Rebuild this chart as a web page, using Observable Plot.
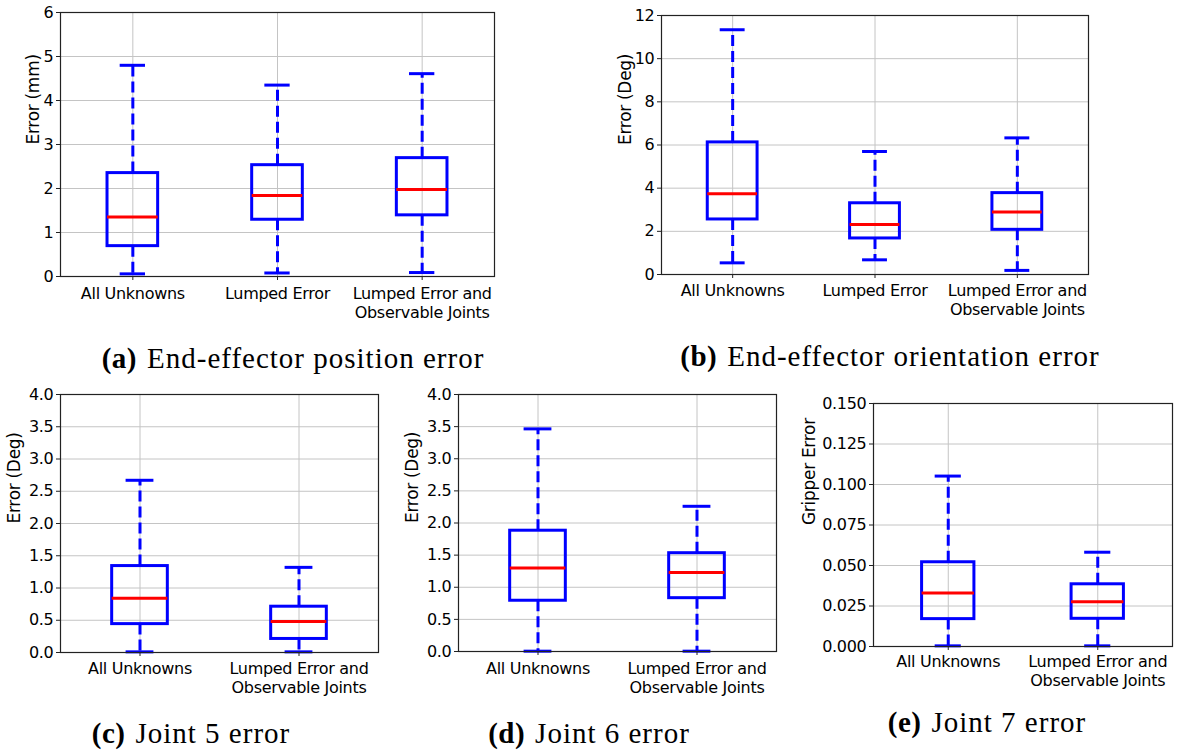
<!DOCTYPE html>
<html>
<head>
<meta charset="utf-8">
<script src="https://cdn.jsdelivr.net/npm/d3@7"></script>
<script src="https://cdn.jsdelivr.net/npm/@observablehq/plot@0.6"></script>
<style>
  html, body { margin: 0; padding: 0; background: #fff; }
  #root { position: relative; width: 1177px; height: 751px; background: #fff; overflow: hidden; }
  .panel { position: absolute; }
  .panel svg text { letter-spacing: -0.3px; }
  .cap { position: absolute; white-space: nowrap; font-family: "Liberation Serif", serif; font-size: 29px; line-height: 1; color: #000; letter-spacing: 1px; transform: translateX(-50%); }
  .cap b { margin-right: 10px; letter-spacing: 0.5px; }
</style>
</head>
<body>
<div id="root"></div>
<script>
// ---------- data ----------
const cats3 = ["All Unknowns", "Lumped Error", "Lumped Error and\nObservable Joints"];
const cats2 = ["All Unknowns", "Lumped Error and\nObservable Joints"];

// (a) End-effector position error (mm)
const posLow  = [0.06, 0.08, 0.09];
const posQ1   = [0.69, 1.29, 1.39];
const posMed  = [1.35, 1.84, 1.98];
const posQ3   = [2.35, 2.53, 2.69];
const posHigh = [4.80, 4.35, 4.61];
const posTicks = [0, 1, 2, 3, 4, 5, 6];

// (b) End-effector orientation error (deg)
const oriLow  = [0.54, 0.68, 0.19];
const oriQ1   = [2.55, 1.67, 2.07];
const oriMed  = [3.74, 2.32, 2.90];
const oriQ3   = [6.12, 3.30, 3.77];
const oriHigh = [11.34, 5.70, 6.33];
const oriTicks = [0, 2, 4, 6, 8, 10, 12];

// (c) Joint 5 error (deg)
const j5Low  = [0.01, 0.01];
const j5Q1   = [0.44, 0.21];
const j5Med  = [0.84, 0.48];
const j5Q3   = [1.34, 0.71];
const j5High = [2.67, 1.32];

// (d) Joint 6 error (deg)
const j6Low  = [0.005, 0.005];
const j6Q1   = [0.79, 0.83];
const j6Med  = [1.30, 1.23];
const j6Q3   = [1.88, 1.53];
const j6High = [3.465, 2.26];
const jointTicks = [0, 0.5, 1.0, 1.5, 2.0, 2.5, 3.0, 3.5, 4.0];

// (e) Joint 7 (gripper) error
const j7Low  = [0.0004, 0.0004];
const j7Q1   = [0.0169, 0.0171];
const j7Med  = [0.033, 0.0276];
const j7Q3   = [0.052, 0.0384];
const j7High = [0.1052, 0.0582];
const gripTicks = [0, 0.025, 0.05, 0.075, 0.1, 0.125, 0.15];

const captions = [
  {tag: "(a)", text: "End-effector position error", cx: 293, base: 368},
  {tag: "(b)", text: "End-effector orientation error", cx: 890, base: 366},
  {tag: "(c)", text: "Joint 5 error", cx: 191, base: 743},
  {tag: "(d)", text: "Joint 6 error", cx: 589, base: 743},
  {tag: "(e)", text: "Joint 7 error", cx: 987, base: 732}
];

// ---------- drawing ----------
const root = document.getElementById("root");
const BLUE = "#0000ff", RED = "#ff0000", GRID = "#c4c4c4";
const BW = 0.35, CW = 0.175;

function panel(o) {
  const n = o.cats.length;
  const idx = d3.range(1, n + 1);
  const rows = idx.map((i, k) => ({i, low: o.low[k], q1: o.q1[k], med: o.med[k], q3: o.q3[k], high: o.high[k]}));
  const chart = Plot.plot({
    width: o.width, height: o.height,
    marginLeft: o.m[0], marginRight: o.m[1], marginTop: o.m[2], marginBottom: o.m[3],
    x: {domain: [0.5, n + 0.5]},
    y: {domain: o.yDomain},
    style: {fontFamily: "'DejaVu Sans', sans-serif", fontSize: "16px", color: "#000", background: "transparent", overflow: "visible"},
    marks: [
      Plot.gridX(idx, {stroke: GRID, strokeOpacity: 1, strokeWidth: 1}),
      Plot.gridY(o.ticks, {stroke: GRID, strokeOpacity: 1, strokeWidth: 1}),
      Plot.ruleX(rows, {x: "i", y1: "q3", y2: "high", stroke: BLUE, strokeWidth: 3, strokeDasharray: "11,5"}),
      Plot.ruleX(rows, {x: "i", y1: "q1", y2: "low", stroke: BLUE, strokeWidth: 3, strokeDasharray: "11,5"}),
      Plot.ruleY(rows, {y: "high", x1: d => d.i - CW / 2, x2: d => d.i + CW / 2, stroke: BLUE, strokeWidth: 3}),
      Plot.ruleY(rows, {y: "low", x1: d => d.i - CW / 2, x2: d => d.i + CW / 2, stroke: BLUE, strokeWidth: 3}),
      Plot.rect(rows, {x1: d => d.i - BW / 2, x2: d => d.i + BW / 2, y1: "q1", y2: "q3", fill: "none", stroke: BLUE, strokeWidth: 3}),
      Plot.ruleY(rows, {y: "med", x1: d => d.i - BW / 2, x2: d => d.i + BW / 2, stroke: RED, strokeWidth: 3}),
      Plot.frame({stroke: "#222", strokeWidth: 1.2}),
      Plot.axisY(o.ticks, {tickSize: 4, tickPadding: 3, tickFormat: o.fmt, label: null, fontSize: 16, stroke: "#222"}),
      Plot.axisX(idx, {tickSize: 4, tickPadding: o.xPad, tickFormat: i => o.cats[i - 1], label: null, fontSize: 16, lineHeight: 1.2, stroke: "#222"}),
      Plot.text([o.ylabel], {frameAnchor: "left", dx: o.labelDx, rotate: -90, text: d => d, fontSize: 17, fill: "#000"})
    ]
  });
  const wrap = document.createElement("div");
  wrap.className = "panel";
  wrap.style.left = o.left + "px";
  wrap.style.top = o.top + "px";
  wrap.appendChild(chart);
  root.appendChild(wrap);
}

panel({left: 0, top: 0, width: 500, height: 330, m: [60, 6, 12, 54],
  cats: cats3, low: posLow, q1: posQ1, med: posMed, q3: posQ3, high: posHigh,
  yDomain: [0, 6], ticks: posTicks, fmt: d3.format("d"), ylabel: "Error (mm)", labelDx: -27, xPad: 5});

panel({left: 590, top: 0, width: 505, height: 330, m: [71, 7, 15, 56],
  cats: cats3, low: oriLow, q1: oriQ1, med: oriMed, q3: oriQ3, high: oriHigh,
  yDomain: [0, 12], ticks: oriTicks, fmt: d3.format("d"), ylabel: "Error (Deg)", labelDx: -36, xPad: 4});

panel({left: 0, top: 380, width: 385, height: 330, m: [60, 7, 14, 58],
  cats: cats2, low: j5Low, q1: j5Q1, med: j5Med, q3: j5Q3, high: j5High,
  yDomain: [0, 4], ticks: jointTicks, fmt: d3.format(".1f"), ylabel: "Error (Deg)", labelDx: -46, xPad: 4});

panel({left: 400, top: 380, width: 385, height: 330, m: [58, 9, 14, 59],
  cats: cats2, low: j6Low, q1: j6Q1, med: j6Med, q3: j6Q3, high: j6High,
  yDomain: [0, 4], ticks: jointTicks, fmt: d3.format(".1f"), ylabel: "Error (Deg)", labelDx: -46, xPad: 5});

panel({left: 790, top: 380, width: 387, height: 330, m: [83, 5, 23, 64],
  cats: cats2, low: j7Low, q1: j7Q1, med: j7Med, q3: j7Q3, high: j7High,
  yDomain: [0, 0.15], ticks: gripTicks, fmt: d3.format(".3f"), ylabel: "Gripper Error", labelDx: -64, xPad: 2.5});

for (const c of captions) {
  const d = document.createElement("div");
  d.className = "cap";
  d.style.left = c.cx + "px";
  d.style.top = (c.base - 0.8375 * 29) + "px";
  const b = document.createElement("b");
  b.textContent = c.tag;
  d.appendChild(b);
  d.appendChild(document.createTextNode(c.text));
  root.appendChild(d);
}
</script>
</body>
</html>
